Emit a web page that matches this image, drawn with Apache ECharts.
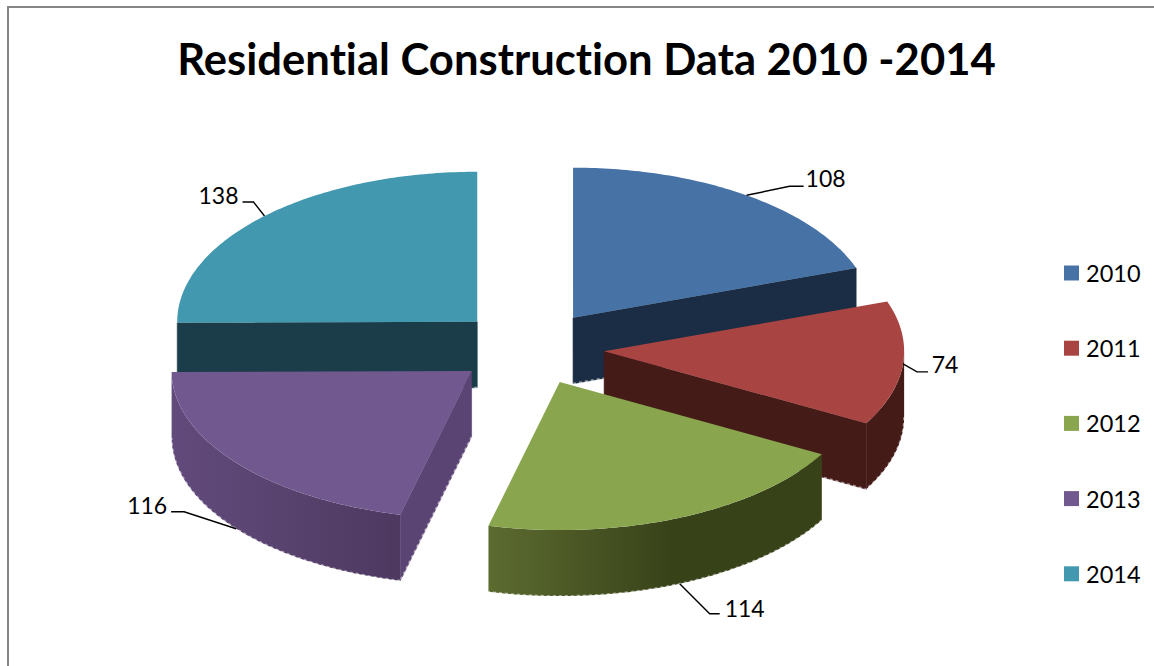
<!DOCTYPE html>
<html>
<head>
<meta charset="utf-8">
<style>html,body{margin:0;padding:0;background:#fff}#c{width:1154px;height:666px}text{font-variant-ligatures:none}</style>
<script src="https://cdn.jsdelivr.net/npm/echarts@6/dist/echarts.min.js"></script>
</head>
<body>
<div id="c"></div>
<script>
// Data
var years = ['2010', '2011', '2012', '2013', '2014'];
var values = [108, 74, 114, 116, 138];
var titleText = 'Residential Construction Data 2010 -2014';

// Styles
var topColors = ['#4672a6', '#a84441', '#89a54e', '#71588f', '#4198af'];
var cutColors = ['#1b2d45', '#451b18', '#384219', '#5a4474', '#1a3d49'];
var wallStops = [
  [[0, '#1b2d45'], [1, '#1b2d45']],
  [[0, '#451b18'], [1, '#451b18']],
  [[0, '#5c6b30'], [0.55, '#384219'], [1, '#384219']],
  [[0, '#624b7c'], [1, '#4d3960']],
  [[0, '#1a3d49'], [1, '#1a3d49']]
];
var drawOrder = [2, 3, 5, 4, 1]; // z for each year: back slices first
var FONT = 'Lato, Carlito, sans-serif';

// Layout of the 3D pie
var CX = 530, CY = 348, RX = 300, RY_BACK = 150, RY_FRONT = 148, DEPTH = 66, EXPLODE = 0.248;
// Leader line layout relative to the slice's anchor: elbow, end, label centre
var leaderLayout = [
  {elbow: [43, -9],  end: [57, -9],  text: [79, -17]},
  {elbow: [14, 8],   end: [25, 8],   text: [42, 0]},
  {elbow: [30, 30],  end: [40, 30],  text: [65, 24]},
  {elbow: [-52, -17], end: [-65, -17], text: [-89, -24]},
  {elbow: [-11, -14], end: [-22, -14], text: [-46, -21]}
];

var total = values.reduce(function (a, b) { return a + b; }, 0);
var starts = [], acc = 0;
values.forEach(function (v) { starts.push(acc / total * 2 * Math.PI); acc += v; });

function slicePoint(cx, cy, t) {
  var c = Math.cos(t);
  return [cx + RX * Math.sin(t), cy - (c > 0 ? RY_BACK : RY_FRONT) * c];
}
function arcPoints(cx, cy, a, b) {
  var pts = [], n = Math.max(2, Math.ceil(Math.abs(b - a) / 0.015));
  for (var i = 0; i <= n; i++) pts.push(slicePoint(cx, cy, a + (b - a) * i / n));
  return pts;
}
function shift(pts) { return pts.map(function (p) { return [p[0], p[1] + DEPTH]; }); }

function makeRender(idx) {
  return function (params, api) {
    var v = api.value(0);
    var a = starts[idx], b = a + v / total * 2 * Math.PI, mid = (a + b) / 2;
    var cx = CX + RX * EXPLODE * Math.sin(mid);
    var cy = CY - (RY_BACK * EXPLODE) * Math.cos(mid);
    var apex = [cx, cy], children = [], fringe = [];

    // visible cut faces
    function cut(t) {
      var p = slicePoint(cx, cy, t);
      children.push({type: 'polygon', silent: true,
        shape: {points: [apex, p, [p[0], p[1] + DEPTH], [cx, cy + DEPTH]]},
        style: {fill: cutColors[idx], stroke: cutColors[idx], lineWidth: 0.6}});
      fringe.push([[cx, cy + DEPTH], [p[0], p[1] + DEPTH]]);
    }
    if (Math.sin(a) < -1e-6) cut(a);
    if (Math.sin(b) > 1e-6) cut(b);

    // visible outer wall
    var wa = Math.max(a, Math.PI / 2), wb = Math.min(b, Math.PI * 1.5);
    if (wb > wa) {
      var top = arcPoints(cx, cy, wa, wb), bottom = shift(top);
      var wallFill = {type: 'linear', x: 0, y: 0, x2: 1, y2: 0,
        colorStops: wallStops[idx].map(function (s) { return {offset: s[0], color: s[1]}; })};
      children.push({type: 'polygon', silent: true,
        shape: {points: top.concat(bottom.slice().reverse())},
        style: {fill: wallFill}});
      fringe.push(bottom);
    }
    // light ragged lower edge
    fringe.forEach(function (line) {
      children.push({type: 'polyline', silent: true, shape: {points: line},
        style: {fill: null, stroke: 'rgba(255,255,255,0.5)', lineWidth: 2, lineDash: [3, 3]}});
    });

    // top face
    children.push({type: 'polygon', silent: true,
      shape: {points: [apex].concat(arcPoints(cx, cy, a, b))},
      style: {fill: topColors[idx]}});

    // leader and value label
    var anchor = slicePoint(cx, cy, mid);
    if (Math.cos(mid) < 0 && Math.abs(Math.sin(mid)) < 0.95) anchor = [anchor[0], anchor[1] + DEPTH];
    var L = leaderLayout[idx];
    children.push({type: 'polyline', silent: true,
      shape: {points: [anchor, [anchor[0] + L.elbow[0], anchor[1] + L.elbow[1]], [anchor[0] + L.end[0], anchor[1] + L.end[1]]]},
      style: {fill: null, stroke: '#000', lineWidth: 1.4}});
    children.push({type: 'text', silent: true,
      style: {text: String(v), x: anchor[0] + L.text[0], y: anchor[1] + L.text[1],
        align: 'center', verticalAlign: 'middle', fill: '#000',
        fontSize: 23, fontFamily: FONT}});
    return {type: 'group', children: children};
  };
}

var chart = echarts.init(document.getElementById('c'), null, {renderer: 'svg'});
chart.setOption({
  animation: false,
  backgroundColor: '#fff',
  title: {
    text: titleText, left: 581.5, top: 31, textAlign: 'center',
    textStyle: {fontFamily: FONT, fontWeight: 'bold', fontSize: 43.6, color: '#000'}
  },
  legend: {
    data: years, orient: 'vertical', left: 1064, top: 261, padding: 0,
    itemWidth: 15, itemHeight: 15, itemGap: 51.2, icon: 'rect', selectedMode: false,
    textStyle: {fontFamily: FONT, fontSize: 23.5, color: '#000', padding: [0, 0, 0, 2]}
  },
  graphic: [{
    type: 'rect', silent: true, z: -1,
    shape: {x: 8, y: 7, width: 1300, height: 800},
    style: {fill: 'none', stroke: '#868686', lineWidth: 2}
  }],
  series: years.map(function (y, i) {
    return {
      type: 'custom', name: y, coordinateSystem: 'none', z: drawOrder[i],
      itemStyle: {color: topColors[i]},
      renderItem: makeRender(i),
      data: [[values[i]]]
    };
  })
});
</script>
</body>
</html>
